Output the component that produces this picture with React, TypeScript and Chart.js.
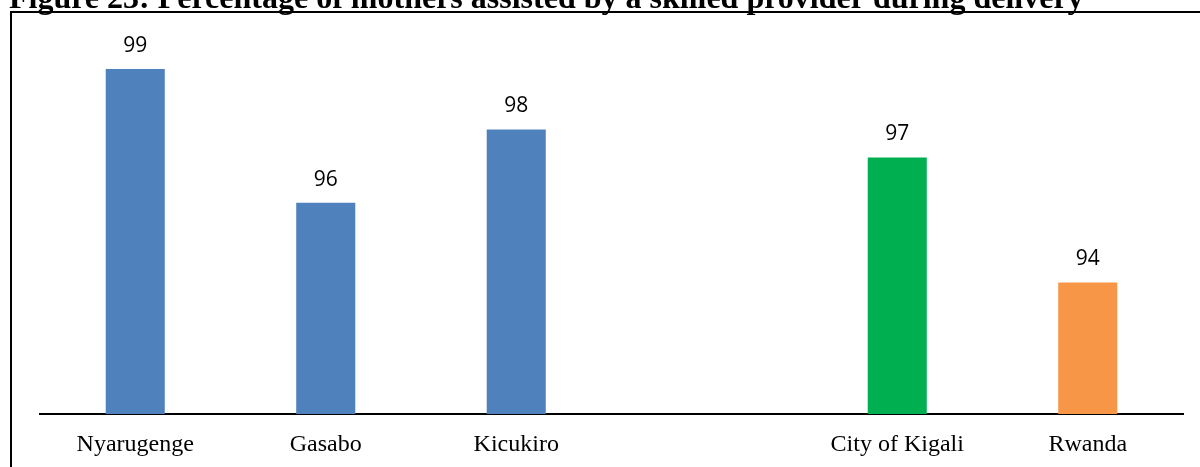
import React, { useEffect, useRef } from "react";
import { Chart, registerables } from "chart.js";

Chart.register(...registerables);

const categories = ["Nyarugenge", "Gasabo", "Kicukiro", "", "City of Kigali", "Rwanda"];
const values: (number | null)[] = [99.0, 95.9, 97.6, null, 96.95, 94.05];
const barColors = ["#4F81BD", "#4F81BD", "#4F81BD", "#4F81BD", "#00B050", "#F79646"];
const titleText = "Figure 23: Percentage of mothers assisted by a skilled provider during delivery";
const yMin = 91;
const yMax = 100;

const decorPlugin = {
  id: "decor",
  beforeDraw(chart: any) {
    const ctx = chart.ctx;
    ctx.save();
    ctx.fillStyle = "#ffffff";
    ctx.fillRect(0, 0, chart.width, chart.height);
    ctx.strokeStyle = "#000000";
    ctx.lineWidth = 2;
    ctx.beginPath();
    ctx.moveTo(10, 12);
    ctx.lineTo(1200, 12);
    ctx.moveTo(11, 11);
    ctx.lineTo(11, 467);
    ctx.stroke();
    ctx.fillStyle = "#000000";
    ctx.font = "bold 32px 'Liberation Serif'";
    ctx.textBaseline = "alphabetic";
    ctx.textAlign = "left";
    ctx.fillText(titleText, 9, 8);
    ctx.restore();
  },
  afterDatasetsDraw(chart: any) {
    const ctx = chart.ctx;
    const meta = chart.getDatasetMeta(0);
    ctx.save();
    ctx.fillStyle = "#000000";
    ctx.font = "21px 'Open Sans'";
    ctx.textAlign = "center";
    ctx.textBaseline = "middle";
    meta.data.forEach((bar: any, i: number) => {
      const v = values[i];
      if (v === null) return;
      ctx.fillText(String(Math.round(v)), bar.x, bar.y - 23);
    });
    ctx.restore();
  },
};

export default function App() {
  const ref = useRef<HTMLCanvasElement>(null);
  useEffect(() => {
    if (!ref.current) return;
    const chart = new Chart(ref.current, {
      type: "bar",
      data: {
        labels: categories,
        datasets: [
          {
            data: values,
            backgroundColor: barColors,
            categoryPercentage: 1,
            barPercentage: 0.31,
          },
        ],
      },
      options: {
        animation: false,
        responsive: false,
        layout: { padding: { left: 40, right: 17, top: 26, bottom: 0 } },
        plugins: { legend: { display: false }, tooltip: { enabled: false }, title: { display: false } },
        scales: {
          x: {
            grid: { display: false, drawTicks: false },
            border: { display: true, color: "#000000", width: 2 },
            ticks: {
              color: "#000000",
              font: { family: "'Liberation Serif'", size: 24 },
              padding: 16,
              maxRotation: 0,
              autoSkip: false,
            },
            afterFit(scale: any) {
              scale.height = 53;
            },
          },
          y: { display: false, min: yMin, max: yMax },
        },
      },
      plugins: [decorPlugin],
    });
    return () => chart.destroy();
  }, []);
  return (
    <div style={{ position: "fixed", left: 0, top: 0, width: 1200, height: 467, background: "#fff" }}>
      <canvas ref={ref} width={1200} height={467} style={{ display: "block" }} />
    </div>
  );
}
